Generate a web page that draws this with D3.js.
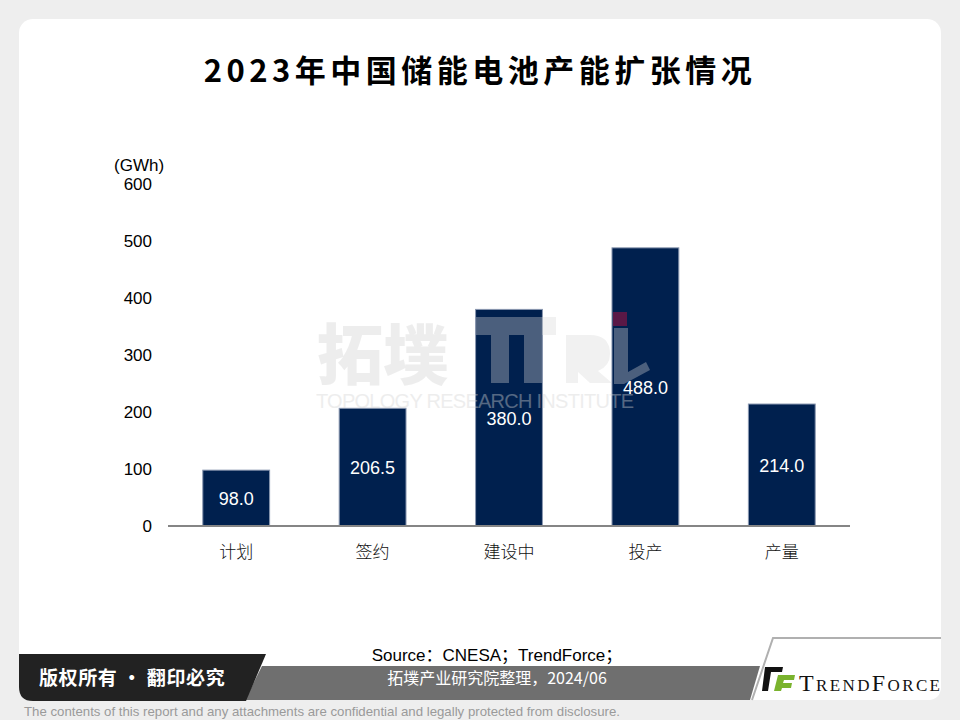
<!DOCTYPE html>
<html>
<head>
<meta charset="utf-8">
<script src="https://cdn.jsdelivr.net/npm/d3@7"></script>
<style>
  body { margin: 0; background: #eeeeee; }
  svg { display: block; }
  text { font-family: Arial, "Liberation Sans", "Noto Sans CJK SC", sans-serif; }
</style>
</head>
<body>
<svg width="960" height="720"></svg>
<script>
// data
const categories = ["计划", "签约", "建设中", "投产", "产量"];
const values = [98.0, 206.5, 380.0, 488.0, 214.0];
const yTicks = [0, 100, 200, 300, 400, 500, 600];

const svg = d3.select("svg");
const cjk = "'Noto Sans CJK SC', sans-serif";

// card
svg.append("rect")
    .attr("x", 19).attr("y", 19)
    .attr("width", 922).attr("height", 681)
    .attr("rx", 14)
    .attr("fill", "#fff");

// title
svg.append("text")
    .attr("x", 480)
    .attr("y", 82)
    .attr("text-anchor", "middle")
    .style("font-family", cjk)
    .style("font-weight", 700)
    .style("font-size", "31px")
    .style("letter-spacing", "4.5px")
    .attr("fill", "#000")
    .text("2023年中国储能电池产能扩张情况");

// scales
const x = d3.scaleBand()
    .domain(categories)
    .range([168, 850])
    .paddingInner(0.51)
    .paddingOuter(0.255);

const y = d3.scaleLinear()
    .domain([0, 600])
    .range([526, 184]);

// y axis labels only
const yAxis = svg.append("g")
    .attr("transform", "translate(152,0)")
    .call(d3.axisLeft(y).tickValues(yTicks).tickSize(0).tickPadding(0));
yAxis.select(".domain").remove();
yAxis.selectAll("text")
    .style("font-family", "Arial, 'Liberation Sans', sans-serif")
    .style("font-size", "17px")
    .attr("fill", "#000");

svg.append("text")
    .attr("x", 114)
    .attr("y", 171)
    .style("font-size", "17px")
    .attr("fill", "#000")
    .text("(GWh)");

// bars
svg.selectAll(".bar")
    .data(values)
    .enter()
    .append("rect")
    .attr("class", "bar")
    .attr("x", (d, i) => x(categories[i]))
    .attr("y", d => y(d))
    .attr("width", x.bandwidth())
    .attr("height", d => y(0) - y(d))
    .attr("fill", "#00204e")
    .attr("stroke", "#8a97b0")
    .attr("stroke-width", 1);

// watermark
const wm = svg.append("g").attr("pointer-events", "none");
wm.append("text")
    .attr("x", 317).attr("y", 379)
    .style("font-family", cjk)
    .style("font-weight", 900)
    .style("font-size", "66px")
    .attr("fill", "#d4d4d4")
    .attr("opacity", 0.4)
    .text("拓墣");
wm.append("path")
    .attr("d", "M476,317 H556 V335 H542 V383 H524 V335 H509 V383 H491 V335 H476 Z " +
               "M566,335 H590 Q610,335 610,354 Q610,366 598,371 L612,383 H590 L578,372 V383 H566 Z " +
               "M614,328 H628 V372 L646,362 L650,370 L624,384 H614 Z")
    .attr("fill", "#d8d8d8")
    .attr("opacity", 0.35);
wm.append("rect")
    .attr("x", 613).attr("y", 312)
    .attr("width", 14).attr("height", 14)
    .attr("fill", "#5a1846");
wm.append("text")
    .attr("x", 316).attr("y", 408)
    .attr("textLength", 318)
    .style("font-size", "20px")
    .attr("fill", "#d4d4d4")
    .attr("opacity", 0.4)
    .text("TOPOLOGY RESEARCH INSTITUTE");

// value labels
svg.selectAll(".val")
    .data(values)
    .enter()
    .append("text")
    .attr("class", "val")
    .attr("x", (d, i) => x(categories[i]) + x.bandwidth() / 2)
    .attr("y", d => (y(d) + y(0)) / 2 + 7)
    .attr("text-anchor", "middle")
    .style("font-size", "18px")
    .attr("fill", "#fff")
    .text(d => d.toFixed(1));

// baseline
svg.append("line")
    .attr("x1", 168).attr("x2", 850)
    .attr("y1", y(0)).attr("y2", y(0))
    .attr("stroke", "#858585")
    .attr("stroke-width", 2);

// category labels
const xAxis = svg.append("g")
    .attr("transform", `translate(0,${y(0)})`)
    .call(d3.axisBottom(x).tickSize(0).tickPadding(20));
xAxis.select(".domain").remove();
xAxis.selectAll("text")
    .style("font-family", cjk)
    .style("font-size", "17px")
    .style("font-weight", 300)
    .attr("fill", "#111");

// bottom bands
svg.append("path")
    .attr("d", "M262,666 H760 L750,700 H245 Z")
    .attr("fill", "#6f6f6f");
svg.append("path")
    .attr("d", "M19,654 H266 L246,701 H33 Q19,701 19,687 Z")
    .attr("fill", "#222");
svg.append("path")
    .attr("d", "M773,638 H941 V686 Q941,700 927,700 H752 Z")
    .attr("fill", "#fff");
svg.append("path")
    .attr("d", "M752,700 L773,638 H941")
    .attr("fill", "none")
    .attr("stroke", "#b0b0b0")
    .attr("stroke-width", 2);

svg.append("text")
    .attr("x", 39).attr("y", 685)
    .style("font-family", cjk)
    .style("font-weight", 700)
    .style("font-size", "19px")
    .style("letter-spacing", "0.6px")
    .attr("fill", "#fff")
    .text("版权所有 · 翻印必究");

svg.append("text")
    .attr("x", 497).attr("y", 661)
    .attr("text-anchor", "middle")
    .style("font-size", "17px")
    .attr("fill", "#000")
    .text("Source\uFF1ACNESA\uFF1BTrendForce\uFF1B");

svg.append("text")
    .attr("x", 497).attr("y", 684)
    .attr("text-anchor", "middle")
    .style("font-family", cjk)
    .style("font-size", "16px")
    .attr("fill", "#fff")
    .text("拓墣产业研究院整理，2024/06");

// TrendForce logo
const logo = svg.append("g").attr("transform", "translate(765,667)");
logo.append("path").attr("d", "M0,0 H18 L17,5 H6 L3,24 H-3 Z").attr("fill", "#111");
logo.append("path").attr("d", "M13,8 H30 L29,13 H19 L18,16 H27 L26,21 H17 L16,24 H9 Z").attr("fill", "#7ab32e");
logo.append("text")
    .attr("x", 34).attr("y", 24)
    .style("font-family", "'Liberation Serif', serif")
    .style("font-size", "24px")
    .style("font-variant", "small-caps")
    .attr("textLength", 141)
    .attr("fill", "#111")
    .text("TrendForce");

// disclaimer
svg.append("text")
    .attr("x", 24).attr("y", 716)
    .attr("textLength", 596)
    .attr("lengthAdjust", "spacingAndGlyphs")
    .style("font-size", "13px")
    .attr("fill", "#9a9a9a")
    .text("The contents of this report and any attachments are confidential and legally protected from disclosure.");
</script>
</body>
</html>
